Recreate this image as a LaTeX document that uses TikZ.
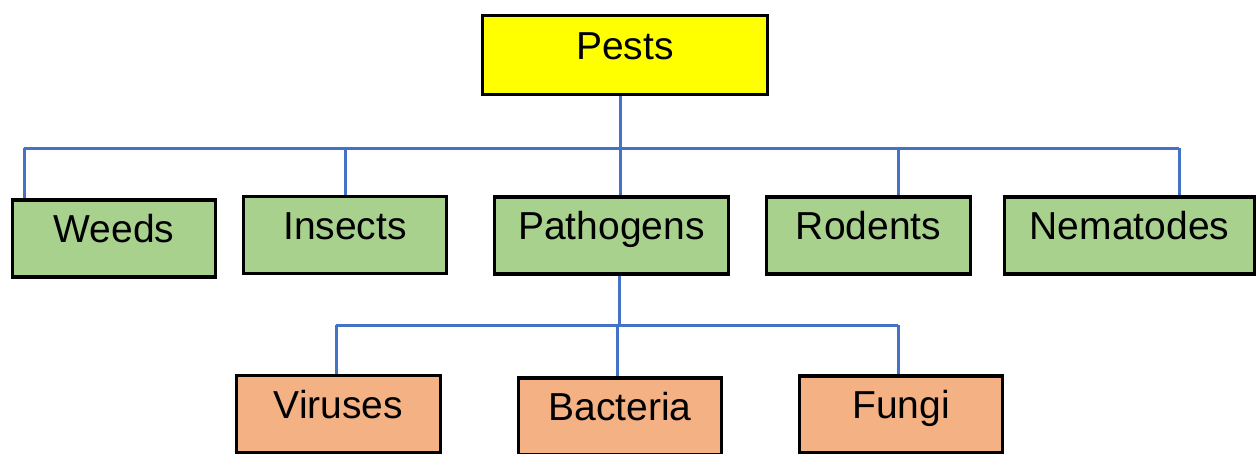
\documentclass[tikz,border=0pt]{standalone}
\usepackage{fontspec}
\setmainfont{Liberation Sans}
\usetikzlibrary{backgrounds}
\definecolor{pestyellow}{HTML}{FFFF00}
\definecolor{boxgreen}{HTML}{A9D18E}
\definecolor{boxorange}{HTML}{F4B183}
\definecolor{linkblue}{HTML}{4472C4}
\begin{document}
\begin{tikzpicture}[x=1pt,y=-1pt,
  box/.style={draw=black, line width=3.5pt, inner sep=0pt, minimum height=77pt,
    text height=28pt, text depth=20pt, font=\fontsize{39}{45}\selectfont},
  top/.style={box, fill=pestyellow, minimum width=285pt, minimum height=79pt},
  mid/.style={box, fill=boxgreen},
  low/.style={box, fill=boxorange},
  conn/.style={draw=linkblue, line width=3pt}]
\useasboundingbox (0,0) rectangle (1259,453);
\node[top] (pests) at (625,55) {Pests};
\node[mid, minimum width=203pt] (weeds) at (114,238.5) {Weeds};
\node[mid, minimum width=203pt] (insects) at (345,235) {Insects};
\node[mid, minimum width=234pt] (pathogens) at (611.5,235.5) {Pathogens};
\node[mid, minimum width=204pt] (rodents) at (868.5,235.5) {Rodents};
\node[mid, minimum width=250pt] (nematodes) at (1129.5,235.5) {Nematodes};
\node[low, minimum width=204pt] (viruses) at (338.5,414) {Viruses};
\node[low, minimum width=203pt] (bacteria) at (620,416.5) {Bacteria};
\node[low, minimum width=203pt] (fungi) at (901,414.5) {Fungi};
\coordinate (busL) at (24,148);
\coordinate (busR) at (1179,148);
\coordinate (subL) at (336,325);
\coordinate (subR) at (898,325);
\begin{scope}[on background layer]
\draw[conn] (busL) -- (busR);
\draw[conn] ([xshift=-5pt]pests.south) -- ([xshift=-5pt]pests.south |- busL);
\draw[conn] (busL) -- (busL |- weeds.north);
\draw[conn] (insects.north |- busL) -- (insects.north);
\draw[conn] ([xshift=8.5pt]pathogens.north |- busL) -- ([xshift=8.5pt]pathogens.north);
\draw[conn] ([xshift=29.5pt]rodents.north |- busL) -- ([xshift=29.5pt]rodents.north);
\draw[conn] (busR) -- (busR |- nematodes.north);
\draw[conn] (subL) -- (subR);
\draw[conn] ([xshift=7.5pt]pathogens.south) -- ([xshift=7.5pt]pathogens.south |- subL);
\draw[conn] (subL) -- (subL |- viruses.north);
\draw[conn] ([xshift=-3pt]bacteria.north |- subL) -- ([xshift=-3pt]bacteria.north);
\draw[conn] (subR) -- (subR |- fungi.north);
\end{scope}
\end{tikzpicture}
\end{document}
